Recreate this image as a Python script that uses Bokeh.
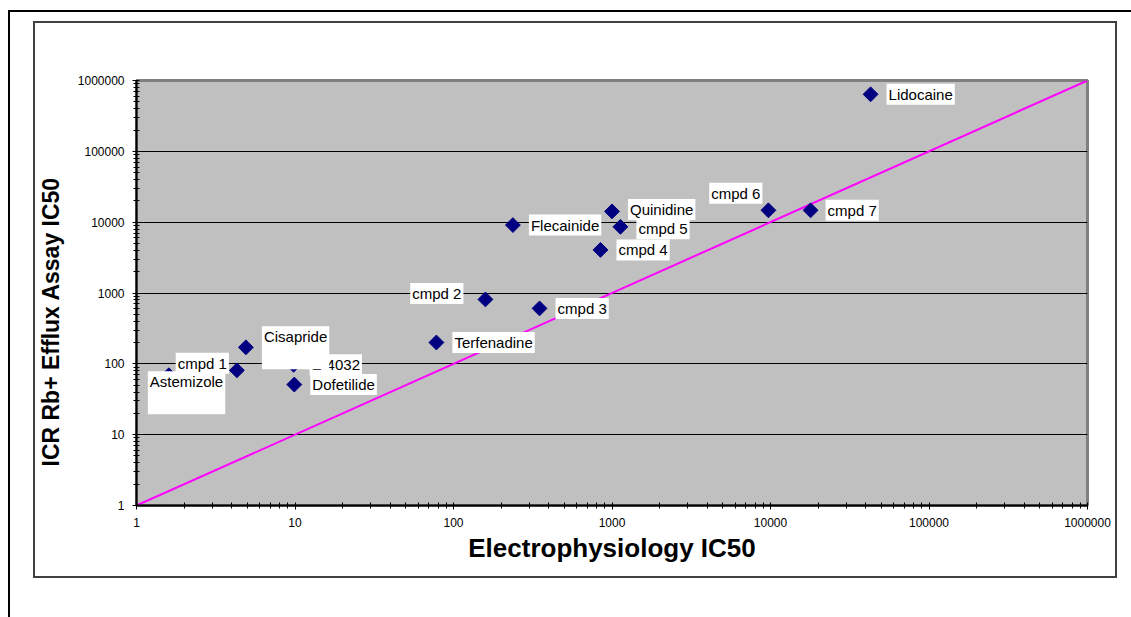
import numpy as np
from bokeh.plotting import figure
from bokeh.models import Range1d, FixedTicker, Label, InlineStyleSheet, Title
from bokeh.embed import file_html
from bokeh.resources import INLINE

# ---------------- data ----------------
names = ["Astemizole", "cmpd 1", "E-4032", "Cisapride", "Dofetilide", "Terfenadine",
         "cmpd 2", "cmpd 3", "Flecainide", "cmpd 4", "cmpd 5", "Quinidine",
         "cmpd 6", "cmpd 7", "Lidocaine"]
ep_ic50 = [1.6, 4.3, 9.8, 4.9, 9.9, 78, 159, 349, 237, 846, 1130, 1000, 9700, 17900, 42800]
icr_ic50 = [69, 81, 97, 171, 51, 200, 812, 606, 9100, 4060, 8600, 14200, 14700, 14700, 638000]

decades = [1, 10, 100, 1000, 10000, 100000, 1000000]
decade_labels = ["1", "10", "100", "1000", "10000", "100000", "1000000"]
identity = [1, 1000000]

x_title = "Electrophysiology IC50"
y_title = "ICR Rb+ Efflux Assay IC50"

# label placement styles: align, baseline, x offset, y offset (px), extra bottom padding
label_style = {
    "Astemizole": ("left", "top", -21, 4, 22),
    "cmpd 1": ("right", "middle", -8, 7, 0),
    "E-4032": ("left", "middle", 16, 0, 0),
    "Cisapride": ("left", "top", 16, 21, 22),
    "Dofetilide": ("left", "middle", 16, 0, 0),
    "Terfenadine": ("left", "middle", 16, 0, 0),
    "cmpd 2": ("right", "middle", -22, 6, 0),
    "cmpd 3": ("left", "middle", 16, 0, 0),
    "Flecainide": ("left", "middle", 16, 0, 0),
    "cmpd 4": ("left", "middle", 16, 0, 0),
    "cmpd 5": ("left", "middle", 16, -2, 0),
    "Quinidine": ("left", "middle", 16, 2, 0),
    "cmpd 6": ("right", "middle", -6, 17, 0),
    "cmpd 7": ("left", "middle", 15, 0, 0),
    "Lidocaine": ("left", "middle", 16, 0, 0),
}

FONT = "Liberation Sans"

frame_css = InlineStyleSheet(css="""
:host { position: relative; }
:host::before {
  content: ""; position: absolute; left: 8px; top: 10px;
  width: calc(100% - 8px); height: calc(100% - 10px);
  border-top: 2px solid black; border-left: 2px solid black;
  box-sizing: border-box; pointer-events: none; z-index: 5;
}
:host::after {
  content: ""; position: absolute; left: 33px; top: 21px;
  width: 1084px; height: 557px;
  border: 2px solid #404040;
  box-sizing: border-box; pointer-events: none; z-index: 5;
}
""")

p = figure(width=1131, height=617, x_axis_type="log", y_axis_type="log",
           x_range=Range1d(1, 1000000), y_range=Range1d(1, 1000000),
           output_backend="svg", toolbar_location=None,
           min_border_left=136, min_border_right=44, min_border_top=80, min_border_bottom=112,
           background_fill_color="#C0C0C0", border_fill_color="white",
           stylesheets=[frame_css])

p.outline_line_color = "#808080"
p.outline_line_width = 3

minor = [d * m for d in decades[:-1] for m in range(2, 10)]
for ax in (p.xaxis[0], p.yaxis[0]):
    ax.ticker = FixedTicker(ticks=decades, minor_ticks=minor)
    ax.major_label_overrides = {d: s for d, s in zip(decades, decade_labels)}
    ax.axis_label_text_font = FONT
    ax.axis_label_text_font_style = "bold"
    ax.axis_label_text_color = "black"
    ax.major_label_text_font = FONT
    ax.major_label_text_font_size = "12px"
    ax.major_label_text_color = "black"
    ax.axis_line_color = "black"
    ax.axis_line_width = 2
    ax.major_tick_line_color = "black"
    ax.minor_tick_line_color = "black"
    ax.major_tick_in = 3
    ax.major_tick_out = 4
    ax.minor_tick_in = 3
    ax.minor_tick_out = 3
    ax.major_label_standoff = 8

p.xaxis.axis_label = x_title
p.xaxis.axis_label_text_font_size = "26px"
p.xaxis.axis_label_standoff = 3
p.yaxis.major_label_orientation = "horizontal"

# y title as a left-side title, starting a little above the bottom of the plot area
p.add_layout(Title(text=y_title, align="left", offset=39, standoff=21,
                   text_font=FONT, text_font_style="bold", text_font_size="23px",
                   text_color="black"), "left")

p.xgrid.grid_line_color = None
p.ygrid.ticker = FixedTicker(ticks=decades[1:-1])
p.ygrid.grid_line_color = "black"
p.ygrid.grid_line_width = 1

p.line(identity, identity, line_color="#FF00FF", line_width=2)
p.scatter(ep_ic50, icr_ic50, marker="square", size=10.5, angle=np.pi / 4,
          fill_color="#000080", line_color="#000080")

for n, xv, yv in zip(names, ep_ic50, icr_ic50):
    align, base, dx, dy, extra = label_style[n]
    p.add_layout(Label(x=xv, y=yv, text=n, x_offset=dx, y_offset=dy,
                       text_align=align, text_baseline=base,
                       text_font=FONT, text_font_size="15px", text_color="black",
                       background_fill_color="white",
                       padding=dict(left=2, right=2, top=2, bottom=2 + extra)))

open("out.html", "w").write(file_html(p, INLINE))
